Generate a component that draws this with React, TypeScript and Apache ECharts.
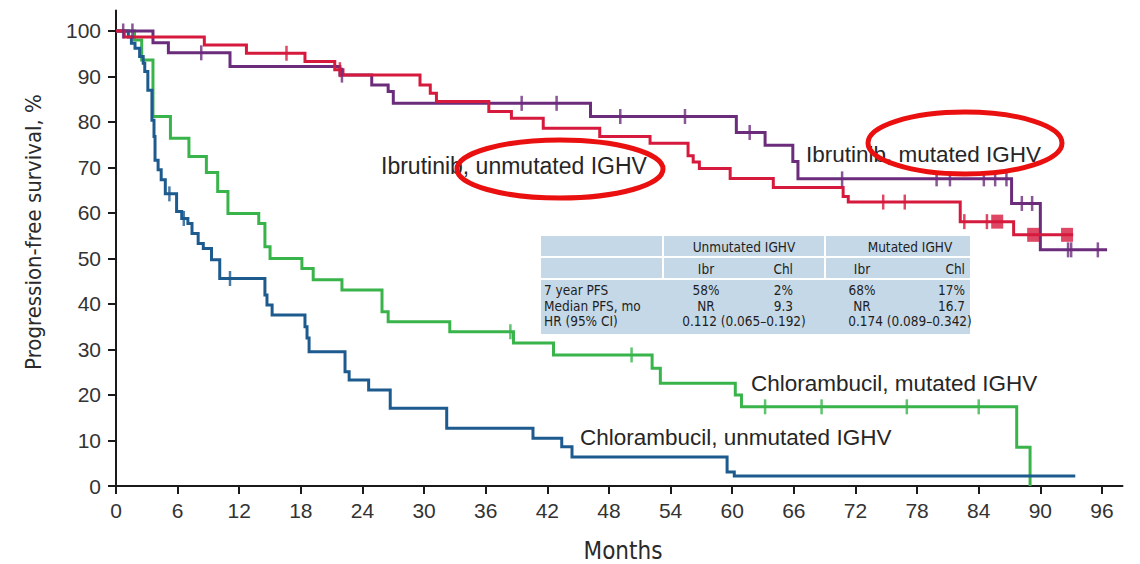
import React, { useEffect, useRef } from 'react';
import * as echarts from 'echarts';

// Axis ticks
const monthTicks = [0, 6, 12, 18, 24, 30, 36, 42, 48, 54, 60, 66, 72, 78, 84, 90, 96];
const pfsTicks = [0, 10, 20, 30, 40, 50, 60, 70, 80, 90, 100];

// Ibrutinib, unmutated IGHV (month at which each PFS level starts)
const ibrUnmutMonths = [0, 0.8, 8.6, 12.7, 18.4, 21.3, 22.1, 29.6, 30.6, 31.2, 36.3, 38.5, 41.6, 47.1, 52.0, 55.7, 56.2, 56.8, 59.8, 64.0, 70.8, 71.3, 82.2, 87.4];
const ibrUnmutPfs = [100, 98.7, 96.9, 95.1, 93.3, 91.5, 90.3, 88.1, 86.3, 84.5, 82.3, 80.8, 78.6, 76.8, 75.3, 72.6, 71.2, 69.8, 67.6, 65.6, 63.6, 62.4, 58.1, 55.2];
const ibrUnmutLastMonth = 93.2;
const ibrUnmutCensored = [16.6, 21.8, 74.7, 76.8, 82.6, 84.8];
const ibrUnmutCensoredCluster = [85.8, 89.3, 92.6];

// Ibrutinib, mutated IGHV
const ibrMutMonths = [0, 3.6, 5.1, 11.1, 21.8, 24.9, 26.5, 27.0, 46.2, 60.4, 63.2, 65.9, 66.4, 87.2, 90.0];
const ibrMutPfs = [100, 97.4, 95.2, 92.2, 90.3, 88.1, 86.7, 84.1, 81.2, 77.7, 74.9, 71.3, 67.5, 62.1, 51.9];
const ibrMutLastMonth = 96.5;
const ibrMutCensored = [0.7, 1.6, 8.3, 22.0, 39.5, 42.9, 49.1, 55.4, 61.7, 70.7, 79.9, 81.2, 84.5, 85.6, 86.7, 88.2, 89.2, 92.7, 93.0, 95.6];

// Chlorambucil, unmutated IGHV
const chlUnmutMonths = [0, 1.2, 1.5, 1.85, 2.3, 2.65, 2.8, 3.1, 3.5, 3.7, 3.8, 4.1, 4.4, 4.8, 5.9, 6.4, 7.0, 7.4, 8.0, 8.5, 9.3, 10.1, 14.5, 14.7, 15.2, 18.4, 18.6, 18.8, 22.3, 22.7, 24.6, 26.7, 32.2, 40.6, 43.4, 44.4, 59.5, 60.2];
const chlUnmutPfs = [100, 98.7, 97.3, 96.2, 94.4, 92.9, 91.1, 87.0, 80.4, 76.8, 71.6, 69.5, 67.3, 64.2, 60.3, 58.8, 57.7, 55.5, 53.3, 52.2, 49.7, 45.6, 42.0, 39.8, 37.6, 35.0, 32.5, 29.5, 25.1, 23.3, 21.1, 17.1, 12.7, 10.5, 8.6, 6.4, 3.1, 2.2];
const chlUnmutLastMonth = 93.4;
const chlUnmutCensored = [5.2, 6.6, 11.1];

// Chlorambucil, mutated IGHV
const chlMutMonths = [0, 1.8, 2.5, 3.6, 5.3, 7.1, 8.8, 9.9, 10.9, 13.9, 14.5, 15.0, 18.1, 19.2, 22.0, 25.9, 26.5, 32.5, 38.7, 42.6, 52.2, 53.0, 60.3, 60.9, 87.7, 89.0];
const chlMutPfs = [100, 98.0, 93.6, 81.2, 76.4, 72.4, 68.9, 64.7, 59.9, 57.7, 52.6, 50.0, 47.8, 45.3, 43.1, 38.3, 36.1, 33.9, 31.4, 28.8, 25.9, 22.6, 20.0, 17.4, 8.5, 0];
const chlMutLastMonth = 89.0;
const chlMutCensored = [38.4, 50.2, 63.2, 68.7, 77.0, 84.0];

const curveLabels = [
  'Ibrutinib, unmutated IGHV',
  'Ibrutinib, mutated IGHV',
  'Chlorambucil, mutated IGHV',
  'Chlorambucil, unmutated IGHV',
];

// Summary table
const tableGroups = ['Unmutated IGHV', 'Mutated IGHV'];
const tableArms = ['Ibr', 'Chl', 'Ibr', 'Chl'];
const tableRowLabels = ['7 year PFS', 'Median PFS, mo', 'HR (95% CI)'];
const pfsAt7Years = ['58%', '2%', '68%', '17%'];
const medianPfs = ['NR', '9.3', 'NR', '16.7'];
const hazardRatios = ['0.112 (0.065–0.192)', '0.174 (0.089–0.342)'];

const RED = '#d61a3d';
const PURPLE = '#6b2c7c';
const GREEN = '#38b44b';
const BLUE = '#1d5a8e';
const SANS = "'Liberation Sans', Arial, Helvetica, sans-serif";
const NARROW = "'Liberation Sans Narrow', 'DejaVu Sans Condensed', 'Liberation Sans', sans-serif";

function stepPoints(months: number[], pfs: number[], last: number) {
  const pts = months.map((m, i) => [m, pfs[i]]);
  pts.push([last, pfs[pfs.length - 1]]);
  return pts;
}

function pfsAt(months: number[], pfs: number[], t: number) {
  let v = pfs[0];
  for (let i = 0; i < months.length; i++) {
    if (months[i] <= t) v = pfs[i];
  }
  return v;
}

function txt(text: string, x: number, y: number, opts: any = {}) {
  const align = opts.align || 'left';
  return {
    type: 'text',
    x,
    y,
    z: opts.z ?? 50,
    rotation: opts.rotation || 0,
    silent: true,
    style: {
      text,
      x: 0,
      y: 0,
      fill: opts.fill || '#262626',
      fontSize: opts.fontSize || 14,
      fontFamily: opts.fontFamily || SANS,
      fontWeight: opts.fontWeight || 'normal',
      align,
      textAlign: align,
      verticalAlign: 'middle',
      textVerticalAlign: 'middle',
    },
  };
}

export default function App() {
  const ref = useRef<HTMLDivElement>(null);

  useEffect(() => {
    const chart = echarts.init(ref.current!, null, { renderer: 'svg' });

    const curves = [
      { months: chlMutMonths, pfs: chlMutPfs, last: chlMutLastMonth, censored: chlMutCensored, color: GREEN },
      { months: chlUnmutMonths, pfs: chlUnmutPfs, last: chlUnmutLastMonth, censored: chlUnmutCensored, color: BLUE },
      { months: ibrMutMonths, pfs: ibrMutPfs, last: ibrMutLastMonth, censored: ibrMutCensored, color: PURPLE },
      { months: ibrUnmutMonths, pfs: ibrUnmutPfs, last: ibrUnmutLastMonth, censored: ibrUnmutCensored, color: RED },
    ];

    const series: any[] = [];
    curves.forEach((c, i) => {
      series.push({
        type: 'line',
        step: 'end',
        data: stepPoints(c.months, c.pfs, c.last),
        showSymbol: false,
        silent: true,
        z: 2 + i,
        lineStyle: { color: c.color, width: 3, join: 'miter', cap: 'butt' },
      });
      series.push({
        type: 'scatter',
        data: c.censored.map((t) => [t, pfsAt(c.months, c.pfs, t)]),
        symbol: 'rect',
        symbolSize: [2.5, 15],
        silent: true,
        z: 10 + i,
        itemStyle: { color: c.color },
      });
    });
    series.push({
      type: 'scatter',
      data: ibrUnmutCensoredCluster.map((t) => [t, pfsAt(ibrUnmutMonths, ibrUnmutPfs, t)]),
      symbol: 'rect',
      symbolSize: [12, 14],
      silent: true,
      z: 20,
      itemStyle: { color: RED },
    });

    // Summary table
    const tx0 = 541, tx1 = 970, ty0 = 236, ty1 = 334;
    const hLine1 = 257, hLine2 = 279;
    const tableEls: any[] = [
      { type: 'rect', z: 30, shape: { x: tx0, y: ty0, width: tx1 - tx0, height: ty1 - ty0 }, style: { fill: '#c5d8e7' } },
      { type: 'line', z: 31, shape: { x1: tx0, y1: hLine1, x2: tx1, y2: hLine1 }, style: { stroke: '#ffffff', lineWidth: 2 } },
      { type: 'line', z: 31, shape: { x1: tx0, y1: hLine2, x2: tx1, y2: hLine2 }, style: { stroke: '#ffffff', lineWidth: 2 } },
      { type: 'line', z: 31, shape: { x1: 663, y1: ty0, x2: 663, y2: hLine2 }, style: { stroke: '#ffffff', lineWidth: 2 } },
      { type: 'line', z: 31, shape: { x1: 825, y1: ty0, x2: 825, y2: hLine2 }, style: { stroke: '#ffffff', lineWidth: 2 } },
    ];
    const tf = { fontFamily: NARROW, fontSize: 13.5, fill: '#1e1e1e', z: 32 };
    const groupCenters = [744, 910];
    tableGroups.forEach((g, i) => tableEls.push(txt(g, groupCenters[i], 246.5, { ...tf, align: 'center' })));
    const armX = [706, 793, 862, 965];
    const armAlign = ['center', 'right', 'center', 'right'];
    tableArms.forEach((a, i) => tableEls.push(txt(a, armX[i], 268.5, { ...tf, align: armAlign[i] })));
    const rowY = [290, 305.5, 321];
    tableRowLabels.forEach((r, i) => tableEls.push(txt(r, 544, rowY[i], tf)));
    pfsAt7Years.forEach((v, i) => tableEls.push(txt(v, armX[i], rowY[0], { ...tf, align: armAlign[i] })));
    medianPfs.forEach((v, i) => tableEls.push(txt(v, armX[i], rowY[1], { ...tf, align: armAlign[i] })));
    hazardRatios.forEach((v, i) => tableEls.push(txt(v, groupCenters[i], rowY[2], { ...tf, align: 'center' })));

    const graphic: any[] = [
      ...tableEls,
      txt(curveLabels[0], 381, 166, { fontSize: 23 }),
      txt(curveLabels[1], 806, 154, { fontSize: 22.5 }),
      txt(curveLabels[2], 751, 383, { fontSize: 22.5 }),
      txt(curveLabels[3], 580, 437, { fontSize: 22.5 }),
      {
        type: 'ellipse',
        z: 100,
        silent: true,
        shape: { cx: 560, cy: 169, rx: 103, ry: 29 },
        style: { fill: 'none', stroke: '#ea1010', lineWidth: 5 },
      },
      {
        type: 'ellipse',
        z: 100,
        silent: true,
        shape: { cx: 965, cy: 143, rx: 97, ry: 31 },
        style: { fill: 'none', stroke: '#ea1010', lineWidth: 5 },
      },
      txt('Progression-free survival, %', 33, 232, {
        fontFamily: NARROW,
        fontSize: 22,
        fill: '#2a2a2a',
        align: 'center',
        rotation: Math.PI / 2,
      }),
      txt('Months', 623, 551, { fontFamily: NARROW, fontSize: 24, fill: '#2a2a2a', align: 'center' }),
    ];

    const axisColor = '#1a1a1a';
    chart.setOption({
      animation: false,
      backgroundColor: '#ffffff',
      grid: { left: 116, top: 10.5, width: 1006.5, height: 475.5, containLabel: false },
      xAxis: {
        type: 'value',
        min: 0,
        max: 98,
        axisLine: { show: true, onZero: false, lineStyle: { color: axisColor, width: 2 } },
        axisTick: { show: true, customValues: monthTicks, length: 8, lineStyle: { color: axisColor, width: 2 } },
        axisLabel: { customValues: monthTicks, fontSize: 21, color: '#333', fontFamily: SANS, margin: 14 },
        splitLine: { show: false },
      },
      yAxis: {
        type: 'value',
        min: 0,
        max: 104.5,
        axisLine: { show: true, onZero: false, lineStyle: { color: axisColor, width: 2 } },
        axisTick: { show: true, customValues: pfsTicks, length: 8, lineStyle: { color: axisColor, width: 2 } },
        axisLabel: { customValues: pfsTicks, fontSize: 21, color: '#333', fontFamily: SANS, margin: 15 },
        splitLine: { show: false },
      },
      series,
      graphic,
    });

    return () => chart.dispose();
  }, []);

  return (
    <div
      ref={ref}
      style={{ position: 'fixed', left: 0, top: 0, width: 1140, height: 564, background: '#fff' }}
    />
  );
}
